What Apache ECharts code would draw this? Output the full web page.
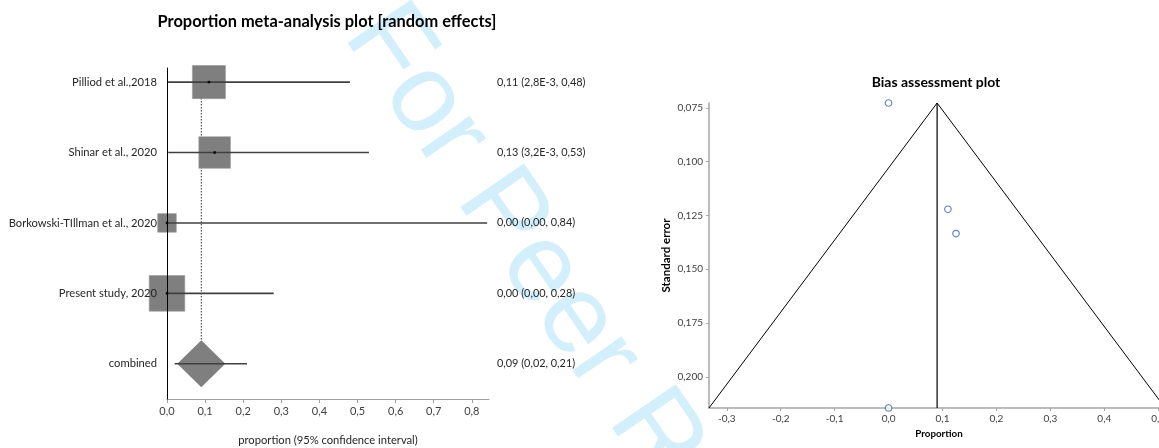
<!DOCTYPE html>
<html><head><meta charset="utf-8">
<script src="https://cdn.jsdelivr.net/npm/echarts@6/dist/echarts.min.js"></script>
<style>html,body{margin:0;padding:0;background:#fff}#c{width:1159px;height:448px}</style>
</head><body><div id="c"></div>
<script>
// ---- Forest plot data ----
const studies = ['Pilliod et al.,2018', 'Shinar et al., 2020', 'Borkowski-TIllman et al., 2020', 'Present study, 2020', 'combined'];
const estimates = [0.11, 0.125, 0.0, 0.0];
const ciLow = [0.0028, 0.0032, 0.0, 0.0];
const ciHigh = [0.48, 0.53, 0.84, 0.28];
const weights = [28.5, 26, 9, 33];
const pooledEstimate = 0.09;
const pooledLow = 0.02;
const pooledHigh = 0.21;
const valueLabels = ['0,11 (2,8E-3, 0,48)', '0,13 (3,2E-3, 0,53)', '0,00 (0,00, 0,84)', '0,00 (0,00, 0,28)', '0,09 (0,02, 0,21)'];
const forestTicks = [0, 0.1, 0.2, 0.3, 0.4, 0.5, 0.6, 0.7, 0.8];

// ---- Funnel (bias assessment) data ----
const funnelProportion = [0.0, 0.11, 0.125, 0.0];
const funnelSE = [0.0727, 0.1221, 0.1334, 0.2145];
const funnelLineX = [-0.333, 0.09, 0.513];
const funnelLineSE = [0.2145, 0.0727, 0.2145];
const funnelXTicks = [-0.3, -0.2, -0.1, 0, 0.1, 0.2, 0.3, 0.4, 0.5];
const funnelYTicks = [0.075, 0.1, 0.125, 0.15, 0.175, 0.2];

const FONT = 'Lato';
const comma = (v, d) => v.toFixed(d).replace('.', ',');

const chart = echarts.init(document.getElementById('c'));

const rowIdx = studies.map((s, i) => i);
const studyRows = estimates.map((e, i) => [e, i, weights[i]]);
const ciRows = ciLow.map((l, i) => [l, ciHigh[i], i]).concat([[pooledLow, pooledHigh, studies.length - 1]]);
const pooledRow = studies.length - 1;
const DIAMOND_H = 23.5, DIAMOND_W = 24;

chart.setOption({
  animation: false,
  textStyle: { fontFamily: FONT },
  graphic: [
    { type: 'text', z: -10, x: 368, y: 18, rotation: -55.5 * Math.PI / 180,
      style: { text: 'For Peer Review', fontFamily: 'Liberation Sans', fontSize: 112, fill: '#d2effb', align: 'left', verticalAlign: 'middle' } },
    { type: 'text', x: 327, y: 22, style: { text: 'Proportion meta-analysis plot [random effects]', fontFamily: FONT, fontWeight: 'bold', fontSize: 16.4, fill: '#000', align: 'center', verticalAlign: 'middle' } },
    { type: 'text', x: 936, y: 82, style: { text: 'Bias assessment plot', fontFamily: FONT, fontWeight: 'bold', fontSize: 14, fill: '#000', align: 'center', verticalAlign: 'middle' } }
  ],
  grid: [
    { left: 167, top: 68, width: 322, height: 331, outerBoundsMode: 'none', containLabel: false },
    { left: 709, top: 103, width: 460, height: 305, outerBoundsMode: 'none', containLabel: false }
  ],
  xAxis: [
    { gridIndex: 0, type: 'value', min: 0, max: 0.845,
      axisLine: { show: true, onZero: false, lineStyle: { color: '#a0a0a0', width: 1 } },
      axisTick: { show: true, length: 4, customValues: forestTicks, lineStyle: { color: '#a0a0a0' } },
      axisLabel: { customValues: forestTicks, formatter: v => comma(v, 1), fontSize: 11, color: '#404040', margin: 7, fontFamily: FONT },
      splitLine: { show: false },
      name: 'proportion (95% confidence interval)', nameLocation: 'middle', nameGap: 36,
      nameTextStyle: { fontSize: 11.2, color: '#262626', fontFamily: FONT } },
    { gridIndex: 1, type: 'value', min: -0.333, max: 0.52,
      axisLine: { show: true, onZero: false, lineStyle: { color: '#a6a6a6', width: 1.5 } },
      axisTick: { show: true, length: 3, customValues: funnelXTicks, lineStyle: { color: '#a6a6a6' } },
      axisLabel: { customValues: funnelXTicks, formatter: v => comma(v, 1), fontSize: 10, color: '#404040', margin: 6, fontFamily: FONT },
      splitLine: { show: false },
      name: 'Proportion', nameLocation: 'middle', nameGap: 20,
      nameTextStyle: { fontSize: 9.8, fontWeight: 'bold', color: '#000', fontFamily: FONT } }
  ],
  yAxis: [
    { gridIndex: 0, type: 'value', min: -0.2, max: 4.5, inverse: true, z: 10,
      axisLine: { show: true, onZero: false, lineStyle: { color: '#000', width: 1 } },
      axisTick: { show: false },
      axisLabel: { customValues: rowIdx, formatter: v => studies[Math.round(v)], fontSize: 11.2, color: '#262626', margin: 10, fontFamily: FONT },
      splitLine: { show: false } },
    { gridIndex: 0, type: 'value', position: 'right', min: -0.2, max: 4.5, inverse: true,
      axisLine: { show: false }, axisTick: { show: false },
      axisLabel: { customValues: rowIdx, formatter: v => valueLabels[Math.round(v)], fontSize: 10.9, color: '#262626', margin: 8, align: 'left', fontFamily: FONT },
      splitLine: { show: false } },
    { gridIndex: 1, type: 'value', min: 0.0727, max: 0.2145, inverse: true,
      axisLine: { show: true, onZero: false, lineStyle: { color: '#a6a6a6', width: 1.5 } },
      axisTick: { show: true, length: 3, customValues: funnelYTicks, lineStyle: { color: '#a6a6a6' } },
      axisLabel: { customValues: funnelYTicks, formatter: v => comma(v, 3), fontSize: 10, color: '#404040', margin: 6, fontFamily: FONT },
      splitLine: { show: false },
      name: 'Standard error', nameLocation: 'middle', nameGap: 37, nameRotate: 90,
      nameTextStyle: { fontSize: 11.5, fontWeight: 'bold', color: '#000', fontFamily: FONT } }
  ],
  series: [
    { type: 'custom', xAxisIndex: 0, yAxisIndex: 0, clip: false, z: 1,
      data: [[pooledEstimate, pooledRow]],
      renderItem: (params, api) => {
        const top = api.coord([api.value(0), -0.2]);
        const bot = api.coord([api.value(0), api.value(1)]);
        return { type: 'line', shape: { x1: top[0], y1: top[1], x2: bot[0], y2: bot[1] - DIAMOND_H },
          style: { stroke: '#303030', lineWidth: 1, lineDash: [1.5, 1.5] } };
      } },
    { type: 'custom', xAxisIndex: 0, yAxisIndex: 0, clip: false, z: 2,
      data: studyRows,
      renderItem: (params, api) => {
        const c = api.coord([api.value(0), api.value(1)]);
        const s = 6.2 * Math.sqrt(api.value(2));
        return { type: 'rect', shape: { x: c[0] - s / 2, y: c[1] - s / 2, width: s, height: s },
          style: { fill: '#7f7f7f', stroke: '#9a9a9a', lineWidth: 0.6 } };
      } },
    { type: 'custom', xAxisIndex: 0, yAxisIndex: 0, clip: false, z: 2,
      data: [[pooledEstimate, pooledRow]],
      renderItem: (params, api) => {
        const c = api.coord([api.value(0), api.value(1)]);
        return { type: 'polygon', shape: { points: [[c[0], c[1] - DIAMOND_H], [c[0] + DIAMOND_W, c[1]], [c[0], c[1] + DIAMOND_H], [c[0] - DIAMOND_W, c[1]]] },
          style: { fill: '#7f7f7f' } };
      } },
    { type: 'custom', xAxisIndex: 0, yAxisIndex: 0, clip: false, z: 3,
      data: ciRows,
      renderItem: (params, api) => {
        const a = api.coord([api.value(0), api.value(2)]);
        const b = api.coord([api.value(1), api.value(2)]);
        return { type: 'line', shape: { x1: a[0], y1: a[1], x2: b[0], y2: b[1] },
          style: { stroke: '#404040', lineWidth: 1.6 } };
      } },
    { type: 'custom', xAxisIndex: 0, yAxisIndex: 0, clip: false, z: 4,
      data: studyRows,
      renderItem: (params, api) => {
        const c = api.coord([api.value(0), api.value(1)]);
        return { type: 'rect', shape: { x: c[0] - 1.2, y: c[1] - 1.2, width: 2.4, height: 2.4 }, style: { fill: '#000' } };
      } },
    { type: 'line', xAxisIndex: 1, yAxisIndex: 2, symbol: 'none', clip: false, z: 2,
      data: funnelLineX.map((x, i) => [x, funnelLineSE[i]]),
      lineStyle: { color: '#000', width: 1 } },
    { type: 'line', xAxisIndex: 1, yAxisIndex: 2, symbol: 'none', clip: false, z: 2,
      data: [[pooledEstimate, funnelLineSE[1]], [pooledEstimate, funnelLineSE[0]]],
      lineStyle: { color: '#000', width: 1.2 } },
    { type: 'scatter', xAxisIndex: 1, yAxisIndex: 2, clip: false, z: 5,
      symbol: 'circle', symbolSize: 6.5,
      data: funnelProportion.map((x, i) => [x, funnelSE[i]]),
      itemStyle: { color: '#fff', borderColor: '#3b66b5', borderWidth: 1.2 } }
  ]
});
</script></body></html>
